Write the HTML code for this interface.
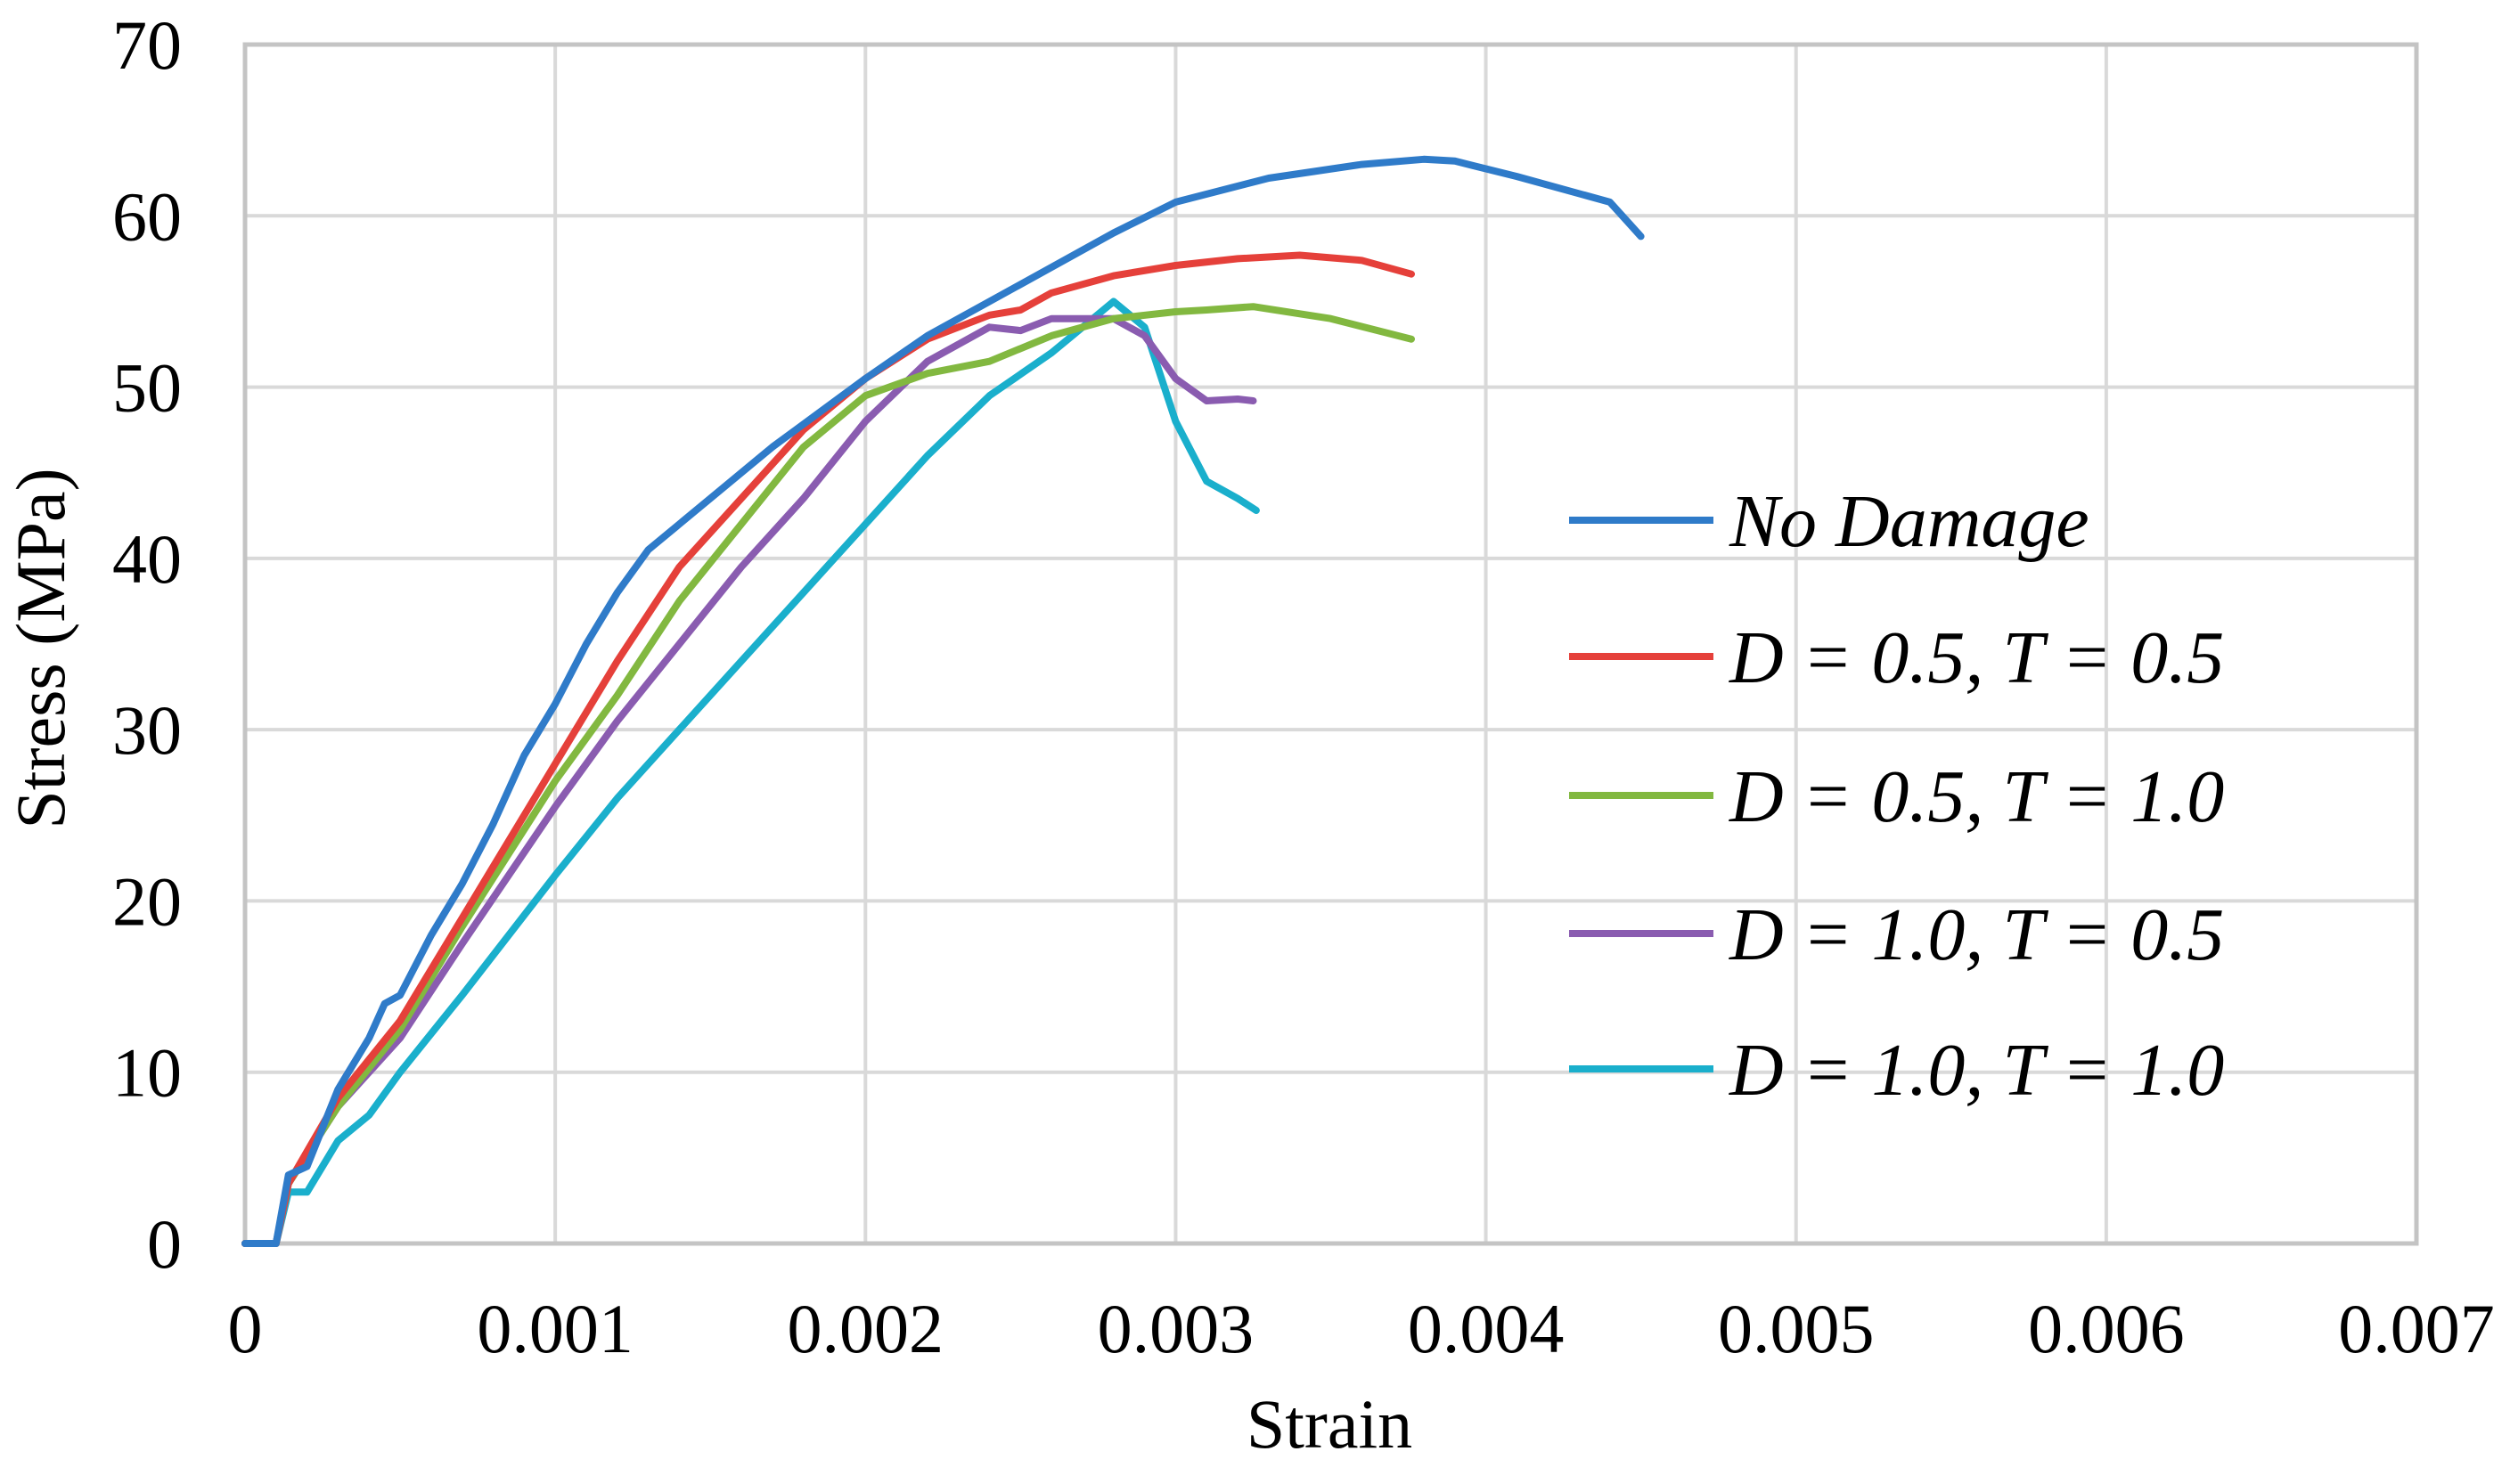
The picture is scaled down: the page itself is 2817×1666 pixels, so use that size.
<!DOCTYPE html>
<html><head><meta charset="utf-8"><style>
html,body{margin:0;padding:0;background:#fff}
svg{display:block}
text{font-family:"Liberation Serif",serif;fill:#000}
</style></head><body>
<svg id="chart" width="2817" height="1666" viewBox="0 0 2817 1666" xmlns="http://www.w3.org/2000/svg">
<g id="grid"></g>
<g id="axes"></g>
<g id="series"></g>
<g id="legend"></g>
<text x="1492" y="1625" font-size="78" text-anchor="middle">Strain</text>
<text transform="translate(72,728) rotate(-90)" font-size="78" text-anchor="middle">Stress (MPa)</text>
</svg>
<script>
const xTicks=[0,0.001,0.002,0.003,0.004,0.005,0.006,0.007];
const xTickLabels=["0","0.001","0.002","0.003","0.004","0.005","0.006","0.007"];
const yTicks=[0,10,20,30,40,50,60,70];
const seriesNames=["No Damage","D = 0.5, T = 0.5","D = 0.5, T = 1.0","D = 1.0, T = 0.5","D = 1.0, T = 1.0"];
const seriesColors=["#2f7bc9","#e5403a","#82b840","#8a5cb0","#1aafcc"];
const noDamageX=[0,0.0001,0.00014,0.0002,0.0003,0.0004,0.00045,0.0005,0.0006,0.0007,0.0008,0.0009,0.001,0.0011,0.0012,0.0013,0.0015,0.0017,0.002,0.0022,0.0025,0.0028,0.003,0.0033,0.0036,0.0038,0.0039,0.0041,0.0043,0.0044,0.0045];
const noDamageY=[0,0,4,4.5,9,12,14,14.5,18,21,24.5,28.5,31.5,35,38,40.5,43.5,46.5,50.5,53,56,59,60.8,62.2,63,63.3,63.2,62.3,61.3,60.8,58.8];
const d05t05X=[0,0.0001,0.00014,0.0003,0.0005,0.0007,0.0008,0.001,0.0012,0.0014,0.0016,0.0018,0.002,0.0022,0.0024,0.0025,0.0026,0.0028,0.003,0.0032,0.0034,0.0036,0.00376];
const d05t05Y=[0,0,3.5,8.5,13,19,22,28,34,39.5,43.5,47.5,50.5,52.8,54.2,54.5,55.5,56.5,57.1,57.5,57.7,57.4,56.6];
const d05t10X=[0,0.0001,0.00014,0.0003,0.0005,0.0007,0.001,0.0012,0.0014,0.0016,0.0018,0.002,0.0022,0.0024,0.0026,0.0028,0.003,0.0031,0.00325,0.0035,0.00376];
const d05t10Y=[0,0,3.5,8,12.5,18.5,27,32,37.5,42,46.5,49.5,50.8,51.5,53,54,54.4,54.5,54.7,54,52.8];
const d10t05X=[0,0.0001,0.00014,0.0003,0.0005,0.0007,0.001,0.0012,0.0014,0.0016,0.0018,0.002,0.0022,0.0024,0.0025,0.0026,0.0028,0.0029,0.003,0.0031,0.0032,0.00325];
const d10t05Y=[0,0,3.5,8,12,17.5,25.5,30.5,35,39.5,43.5,48,51.5,53.5,53.3,54,54,53,50.5,49.2,49.3,49.2];
const d10t10X=[0,0.0001,0.00014,0.0002,0.0003,0.0004,0.0005,0.0007,0.001,0.0012,0.0014,0.0016,0.0018,0.002,0.0022,0.0024,0.0026,0.0027,0.0028,0.0029,0.003,0.0031,0.0032,0.00326];
const d10t10Y=[0,0,3,3,6,7.5,10,14.5,21.5,26,30,34,38,42,46,49.5,52,53.5,55,53.5,48,44.5,43.5,42.8];

const NS="http://www.w3.org/2000/svg";
const L=275,R=2712,T=50,B=1396;
const sx=v=>L+(v/0.007)*(R-L);
const sy=v=>B-(v/70)*(B-T);
function mk(tag,attrs,parent){const e=document.createElementNS(NS,tag);for(const k in attrs)e.setAttribute(k,attrs[k]);parent.appendChild(e);return e;}
const grid=document.getElementById('grid'),axes=document.getElementById('axes'),ser=document.getElementById('series'),leg=document.getElementById('legend');
xTicks.forEach((t,i)=>{
  const ln=mk('line',{x1:sx(t),x2:sx(t),y1:T,y2:B,stroke:'#d9d9d9','stroke-width':4},grid);
  
  
  const tx=mk('text',{x:sx(t),y:1518,'font-size':78,'text-anchor':'middle'},axes);
  tx.textContent=xTickLabels[i];
  
  
});
yTicks.forEach(t=>{
  const ln=mk('line',{x1:L,x2:R,y1:sy(t),y2:sy(t),stroke:'#d9d9d9','stroke-width':4},grid);
  
  
  const tx=mk('text',{x:204,y:sy(t)+27,'font-size':78,'text-anchor':'end'},axes);
  tx.textContent=String(t);
  
  
});
const fr=mk('rect',{x:L,y:T,width:R-L,height:B-T,fill:'none',stroke:'#c4c4c4','stroke-width':5},grid);


const allX=[noDamageX,d05t05X,d05t10X,d10t05X,d10t10X];
const allY=[noDamageY,d05t05Y,d05t10Y,d10t05Y,d10t10Y];
const slugs=['no-damage','d05-t05','d05-t10','d10-t05','d10-t10'];
for(let s=4;s>=0;s--){
  const xs=allX[s],ys=allY[s];
  const d=xs.map((x,i)=>(i?'L':'M')+sx(x).toFixed(1)+' '+sy(ys[i]).toFixed(1)).join(' ');
  const p=mk('path',{d:d,fill:'none',stroke:seriesColors[s],'stroke-width':8,'stroke-linejoin':'round','stroke-linecap':'round'},ser);
  
  
}
const legY=[584,737,893,1048,1200];
seriesNames.forEach((n,i)=>{
  const g=mk('g',{},leg);
  
  
  mk('line',{x1:1761,x2:1923,y1:legY[i],y2:legY[i],stroke:seriesColors[i],'stroke-width':8},g);
  const tx=mk('text',{x:1941,y:legY[i]+29,'font-size':84,'font-style':'italic'},g);
  tx.textContent=n;
});
</script>
</body></html>
